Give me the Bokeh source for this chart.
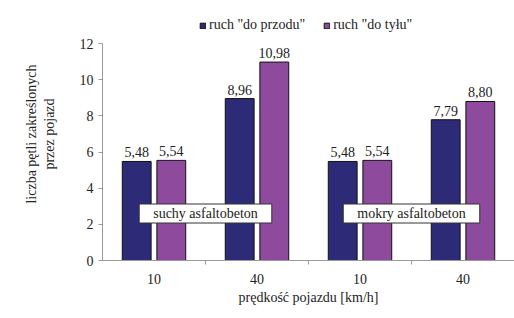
from bokeh.plotting import figure
from bokeh.models import (ColumnDataSource, FixedTicker, LabelSet, Label, Legend, LegendItem, Range1d)
from bokeh.embed import file_html
from bokeh.resources import INLINE

speeds = ["10", "40", "10", "40"]
surfaces = ["suchy asfaltobeton", "mokry asfaltobeton"]
forward = [5.48, 8.96, 5.48, 7.79]
backward = [5.54, 10.98, 5.54, 8.80]
series_names = ['ruch "do przodu"', 'ruch "do tyłu"']
y_ticks = [0, 2, 4, 6, 8, 10, 12]

FONT = "Liberation Serif"
BLUE = "#2D2A78"
PURPLE = "#8E4A9C"
TXT = "#222222"

centers = [i + 0.5 for i in range(len(speeds))]
off = 0.168
src_f = ColumnDataSource(dict(x=[c - off for c in centers], top=forward,
                              lab=[f"{v:.2f}".replace(".", ",") for v in forward]))
src_b = ColumnDataSource(dict(x=[c + off for c in centers], top=backward,
                              lab=[f"{v:.2f}".replace(".", ",") for v in backward]))

p = figure(width=514, height=318, output_backend="svg", toolbar_location=None,
           x_range=Range1d(0, 4), y_range=Range1d(0, 14),
           min_border_left=102, min_border_right=0, min_border_top=7, min_border_bottom=58)
p.outline_line_color = None
p.xgrid.visible = False
p.ygrid.visible = False

rf = p.vbar(x="x", top="top", width=0.28, source=src_f, fill_color=BLUE, line_color="#111111", line_width=1)
rb = p.vbar(x="x", top="top", width=0.28, source=src_b, fill_color=PURPLE, line_color="#111111", line_width=1)

for src in (src_f, src_b):
    p.add_layout(LabelSet(x="x", y="top", text="lab", source=src, text_align="center",
                          text_baseline="bottom", y_offset=4, text_font=FONT,
                          text_font_size="14px", text_color=TXT))

# axes
p.yaxis.bounds = (0, 12)
p.yaxis.ticker = FixedTicker(ticks=y_ticks)
p.yaxis.axis_line_color = "#999999"
p.yaxis.major_tick_line_color = "#999999"
p.yaxis.major_tick_in = 0
p.yaxis.major_tick_out = 4
p.yaxis.minor_tick_line_color = None
p.yaxis.major_label_text_font = FONT
p.yaxis.major_label_text_font_size = "14px"
p.yaxis.major_label_text_color = TXT
p.yaxis.axis_label = "liczba pętli zakreślonych\nprzez pojazd"
p.yaxis.axis_label_text_font = FONT
p.yaxis.axis_label_text_font_size = "14px"
p.yaxis.axis_label_text_font_style = "normal"
p.yaxis.axis_label_text_color = TXT
p.yaxis.axis_label_standoff = 20

p.xaxis.ticker = FixedTicker(ticks=centers, minor_ticks=[1, 2, 3])
p.xaxis.major_label_overrides = {c: s for c, s in zip(centers, speeds)}
p.xaxis.axis_line_color = "#999999"
p.xaxis.major_tick_line_color = None
p.xaxis.minor_tick_line_color = "#999999"
p.xaxis.minor_tick_in = 0
p.xaxis.minor_tick_out = 4
p.xaxis.major_label_standoff = 7
p.xaxis.major_label_text_font = FONT
p.xaxis.major_label_text_font_size = "14px"
p.xaxis.major_label_text_color = TXT
p.xaxis.axis_label = "prędkość pojazdu [km/h]"
p.xaxis.axis_label_text_font = FONT
p.xaxis.axis_label_text_font_size = "14px"
p.xaxis.axis_label_text_font_style = "normal"
p.xaxis.axis_label_text_color = TXT
p.xaxis.axis_label_standoff = 3

# surface labels
for i, s in enumerate(surfaces):
    p.add_layout(Label(x=1 + 2 * i, y=2.6, text=s, text_align="center", text_baseline="middle",
                       text_font=FONT, text_font_size="14px", text_color=TXT,
                       background_fill_color="white", border_line_color="#333333",
                       border_line_width=1, padding=(14, 2)))

legend = Legend(items=[LegendItem(label=series_names[0], renderers=[rf]),
                       LegendItem(label=series_names[1], renderers=[rb])],
                orientation="horizontal", location=(97, 227),
                label_text_font=FONT, label_text_font_size="14px", label_text_color=TXT,
                glyph_width=7, glyph_height=7, label_height=14, label_standoff=3, spacing=18,
                padding=0, margin=0, border_line_color=None, background_fill_alpha=0)
p.add_layout(legend, "center")

open("out.html", "w").write(file_html(p, INLINE))
